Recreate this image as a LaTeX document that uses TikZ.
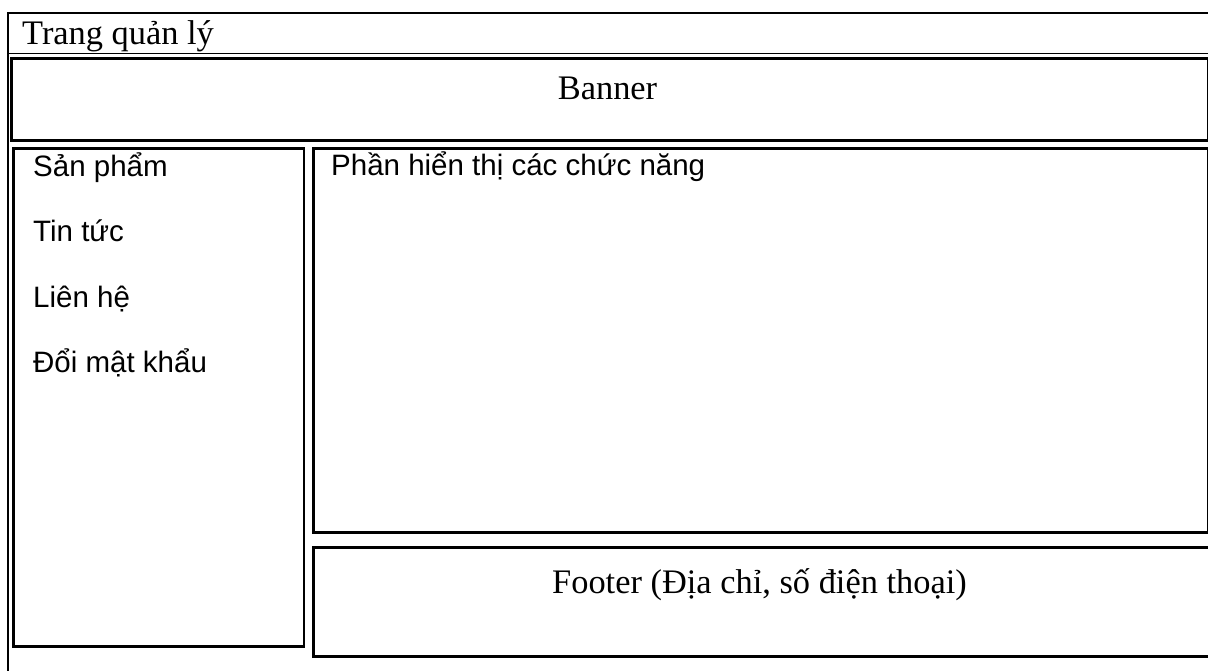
\documentclass[tikz,border=0pt]{standalone}
\usepackage{fontspec}
\setmainfont{Liberation Serif}
\newfontfamily\arialfont{Liberation Sans}
\begin{document}
\begin{tikzpicture}[x=1pt,y=-1pt,
  frameline/.style={draw=black,line width=1.6pt},
  panel/.style={draw=black,line width=2.6pt,fill=none,rectangle,inner sep=0pt,anchor=north west},
  seriftext/.style={inner sep=0pt,font=\fontsize{34.4}{40}\selectfont},
  menutext/.style={inner sep=0pt,anchor=base west,font=\arialfont\fontsize{29.5}{35}\selectfont}]
\useasboundingbox (0,0) rectangle (1208,671);
\clip (0,0) rectangle (1208,671);

% page frame: top rule, title rule and left rule
\coordinate (tl) at (8,13);
\coordinate (tr) at (1212,13);
\coordinate (bl) at (8,675);
\coordinate (hl) at (8,53.5);
\coordinate (hr) at (1212,53.5);
\draw[frameline] (tr) -- (tl) -- (bl);
\draw[line width=1.4pt] (hl) -- (hr);

\node[seriftext,anchor=base west] (title) at (22,45) {Trang quản lý};

% banner
\node[panel,minimum width=1196.5pt,minimum height=81.5pt] (banner) at (10,57.5) {};
\node[seriftext,anchor=base] (bannertext) at (607.5,100) {Banner};

% left menu
\node[panel,minimum width=290.5pt,minimum height=498pt] (menu) at (12,147) {};
\node[menutext] (m1) at (33,177) {Sản phẩm};
\node[menutext] (m2) at (33,242) {Tin tức};
\node[menutext] (m3) at (33,307) {Liên hệ};
\node[menutext] (m4) at (33,372) {Đổi mật khẩu};

% main content area
\node[panel,minimum width=894.5pt,minimum height=384pt] (content) at (312,147) {};
\node[menutext] (contenttext) at (331,176) {Phần hiển thị các chức năng};

% footer, running past the right edge of the page
\node[panel,minimum width=920pt,minimum height=109pt] (footer) at (312,546) {};
\node[seriftext,anchor=base] (footertext) at (759.5,593) {Footer (Địa chỉ, số điện thoại)};
\end{tikzpicture}
\end{document}
